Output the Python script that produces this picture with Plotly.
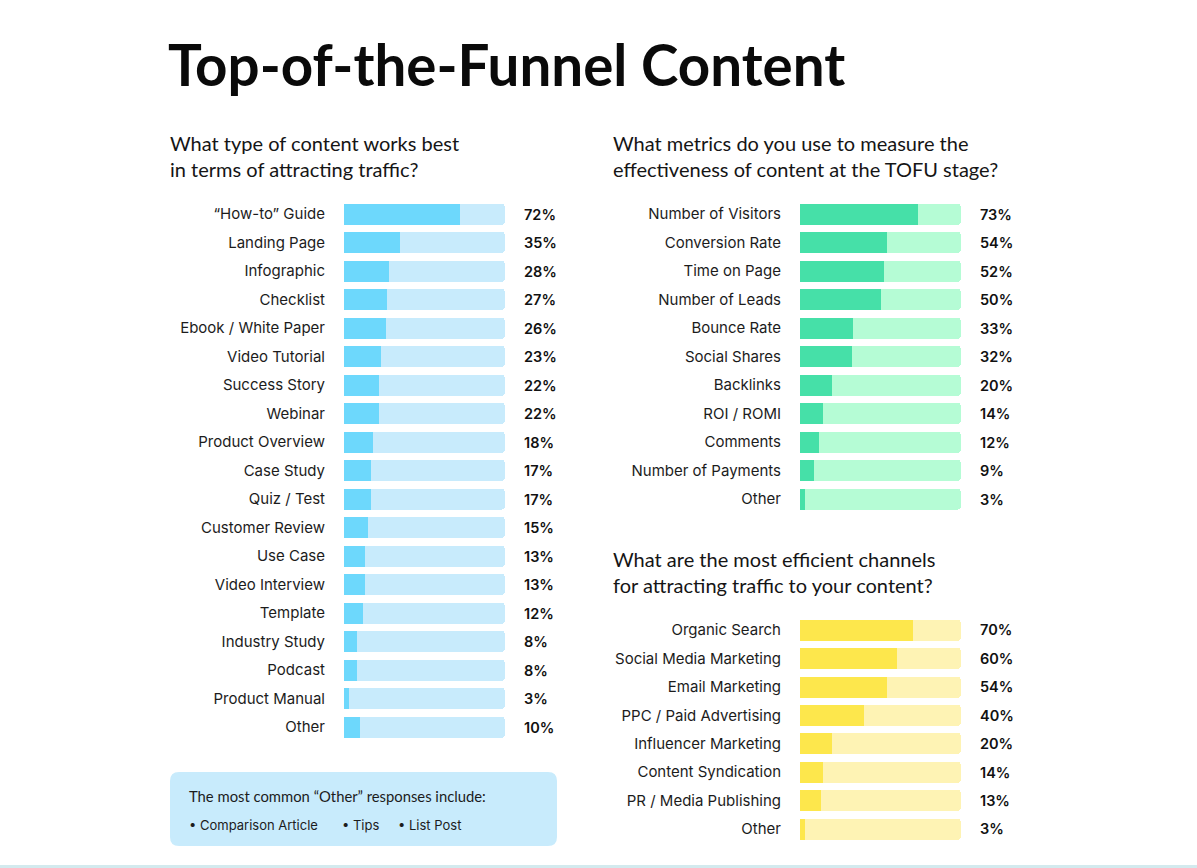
import plotly.graph_objects as go

# ---------------- data ----------------
content_types = ["“How-to” Guide", "Landing Page", "Infographic", "Checklist",
                 "Ebook / White Paper", "Video Tutorial", "Success Story", "Webinar",
                 "Product Overview", "Case Study", "Quiz / Test", "Customer Review",
                 "Use Case", "Video Interview", "Template", "Industry Study",
                 "Podcast", "Product Manual", "Other"]
content_values = [72, 35, 28, 27, 26, 23, 22, 22, 18, 17, 17, 15, 13, 13, 12, 8, 8, 3, 10]

metrics = ["Number of Visitors", "Conversion Rate", "Time on Page", "Number of Leads",
           "Bounce Rate", "Social Shares", "Backlinks", "ROI / ROMI", "Comments",
           "Number of Payments", "Other"]
metric_values = [73, 54, 52, 50, 33, 32, 20, 14, 12, 9, 3]

channels = ["Organic Search", "Social Media Marketing", "Email Marketing",
            "PPC / Paid Advertising", "Influencer Marketing", "Content Syndication",
            "PR / Media Publishing", "Other"]
channel_values = [70, 60, 54, 40, 20, 14, 13, 3]

other_responses = ["Comparison Article", "Tips", "List Post"]

title = "Top-of-the-Funnel Content"
q1 = "What type of content works best<br>in terms of attracting traffic?"
q2 = "What metrics do you use to measure the<br>effectiveness of content at the TOFU stage?"
q3 = "What are the most efficient channels<br>for attracting traffic to your content?"

FULL = 100

# ---------------- layout helpers ----------------
W, H = 1197, 868
def px(x):
    return x / W
def py(y):
    return 1 - y / H

LABEL_FONT = dict(family="Inter, Roboto, sans-serif", size=15, color="#1c1c1c")
PCT_FONT = dict(family="Inter, Roboto, sans-serif", size=14.5, color="#111111", weight=600)
HEAD_FONT = "Lato, 'Noto Sans', sans-serif"

panels = [
    # cats, values, dark, light, x0, x1, first row center, row step, axis suffix
    (content_types, content_values, "#6dd8fc", "#c8ebfc", 344, 505, 214, 28.5, ""),
    (metrics, metric_values, "#46e0a8", "#b5fcd5", 800, 961, 214, 28.5, "2"),
    (channels, channel_values, "#fde74c", "#fef3b4", 800, 961, 630, (829 - 630) / 7, "3"),
]

fig = go.Figure()
annotations = []
layout_axes = {}

for cats, vals, dark, light, x0, x1, yc0, step, sfx in panels:
    n = len(cats)
    xa = "x" + sfx
    ya = "y" + sfx
    fig.add_trace(go.Bar(
        x=[FULL] * n, y=cats, orientation="h", xaxis=xa, yaxis=ya,
        marker=dict(color=light, cornerradius=4, line=dict(width=0)),
        width=0.74, hoverinfo="skip", showlegend=False))
    fig.add_trace(go.Bar(
        x=vals, y=cats, orientation="h", xaxis=xa, yaxis=ya,
        marker=dict(color=dark, cornerradius=4, line=dict(width=0)),
        width=0.74, showlegend=False,
        hovertemplate="%{y}: %{x}%<extra></extra>"))
    top = yc0 - step / 2
    bottom = yc0 + step * (n - 1) + step / 2
    layout_axes["xaxis" + sfx] = dict(
        domain=[px(x0), px(x1)], range=[0, FULL], anchor=ya,
        visible=False, fixedrange=True)
    layout_axes["yaxis" + sfx] = dict(
        domain=[py(bottom), py(top)], anchor=xa,
        type="category", categoryorder="array", categoryarray=cats,
        range=[n - 0.5, -0.5], showgrid=False, zeroline=False, showline=False,
        ticks="", ticklabelstandoff=18, tickfont=LABEL_FONT, fixedrange=True)
    for c, v in zip(cats, vals):
        annotations.append(dict(
            x=FULL, y=c, xref=xa, yref=ya, text=f"{v}%", showarrow=False,
            xanchor="left", xshift=17, font=PCT_FONT))

# titles
annotations.append(dict(x=px(166), y=py(64), xref="paper", yref="paper", text=f"<b>{title}</b>",
                        showarrow=False, xanchor="left", yanchor="middle",
                        font=dict(family=HEAD_FONT, size=56.5, color="#0a0a0a")))
for txt, x, y in [(q1, 168, 156.5), (q2, 611, 156.5), (q3, 611, 572)]:
    annotations.append(dict(x=px(x), y=py(y), xref="paper", yref="paper", text=txt,
                            showarrow=False, xanchor="left", yanchor="middle", align="left",
                            font=dict(family=HEAD_FONT, size=20, color="#151515")))

# note box
bx0, bx1, by0, by1, r = 170, 557, 772, 846, 9
path = (f"M {px(bx0 + r)} {py(by0)} L {px(bx1 - r)} {py(by0)} "
        f"Q {px(bx1)} {py(by0)} {px(bx1)} {py(by0 + r)} L {px(bx1)} {py(by1 - r)} "
        f"Q {px(bx1)} {py(by1)} {px(bx1 - r)} {py(by1)} L {px(bx0 + r)} {py(by1)} "
        f"Q {px(bx0)} {py(by1)} {px(bx0)} {py(by1 - r)} L {px(bx0)} {py(by0 + r)} "
        f"Q {px(bx0)} {py(by0)} {px(bx0 + r)} {py(by0)} Z")
shapes = [
    dict(type="path", path=path, xref="paper", yref="paper",
         fillcolor="#c8ebfc", line=dict(width=0), layer="below"),
    dict(type="rect", xref="paper", yref="paper", x0=0, x1=1, y0=0, y1=py(865),
         fillcolor="#d3eaee", line=dict(width=0), layer="below"),
]
annotations.append(dict(x=px(187), y=py(796), xref="paper", yref="paper",
                        text="The most common “Other” responses include:", showarrow=False,
                        xanchor="left", yanchor="middle",
                        font=dict(family=HEAD_FONT, size=14.8, color="#1c1c1c")))
for item, x in zip(other_responses, [187, 340, 396]):
    annotations.append(dict(x=px(x), y=py(825), xref="paper", yref="paper",
                            text=f"• {item}", showarrow=False, xanchor="left", yanchor="middle",
                            font=dict(family="Inter, Roboto, sans-serif", size=13, color="#1c1c1c")))

fig.update_layout(
    width=W, height=H, margin=dict(l=0, r=0, t=0, b=0),
    paper_bgcolor="white", plot_bgcolor="rgba(0,0,0,0)",
    barmode="overlay", bargap=0, showlegend=False,
    annotations=annotations, shapes=shapes, **layout_axes)

fig.write_html("out.html", config={"displayModeBar": False})
